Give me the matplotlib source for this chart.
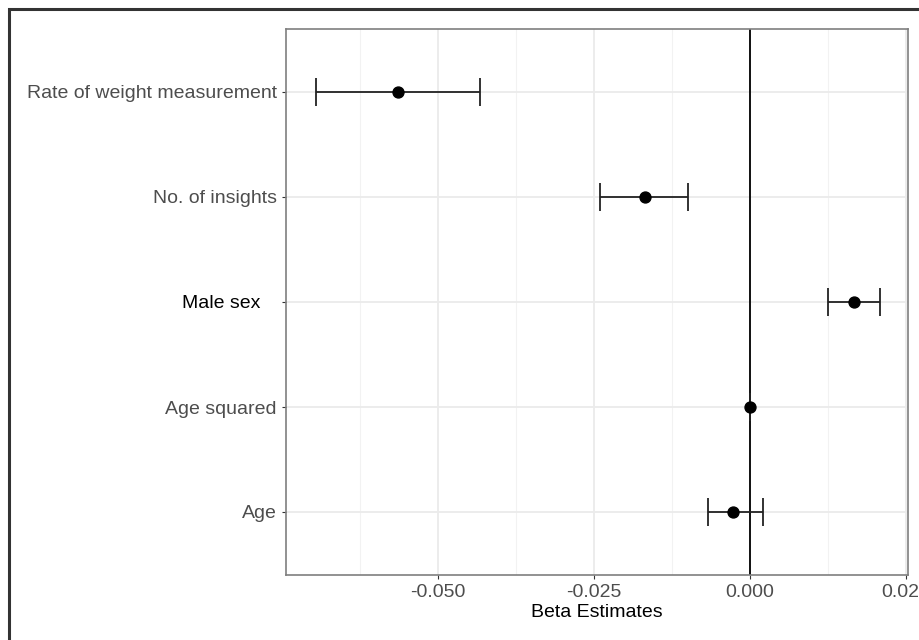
import matplotlib.pyplot as plt
from matplotlib.patches import Rectangle

# data (bottom to top)
labels = ["Age", "Age squared", "Male sex   ", "No. of insights", "Rate of weight measurement"]
estimates = [-0.0027, 0.0000, 0.0167, -0.0169, -0.0565]
ci_low = [-0.0067, 0.0000, 0.0125, -0.0240, -0.0696]
ci_high = [0.0021, 0.0000, 0.0208, -0.0099, -0.0433]
xticks = [-0.050, -0.025, 0.000, 0.025]
xtick_labels = ["-0.050", "-0.025", "0.000", "0.025"]

plt.rcParams['font.family'] = ['Liberation Sans', 'DejaVu Sans']

fig = plt.figure(figsize=(9.2, 6.4), dpi=100)
ax = fig.add_axes([286 / 920, 1 - 575 / 640, (908 - 286) / 920, (575 - 29) / 640])

ypos = list(range(1, len(labels) + 1))

# grid
for x in [-0.0625, -0.0375, -0.0125, 0.0125]:
    ax.axvline(x, color='#f2f2f2', lw=0.8, zorder=0)
for x in xticks:
    ax.axvline(x, color='#ebebeb', lw=1.3, zorder=0)
for y in ypos:
    ax.axhline(y, color='#ebebeb', lw=1.3, zorder=0)

ax.axvline(0, color='black', lw=1.3, zorder=1)

xerr = [[e - l for e, l in zip(estimates, ci_low)],
        [h - e for e, h in zip(estimates, ci_high)]]
ax.errorbar(estimates, ypos, xerr=xerr, fmt='none', ecolor='#222222',
            elinewidth=1.3, capsize=10, capthick=1.3, zorder=2)
ax.scatter(estimates, ypos, s=62, color='black', zorder=3)

ax.set_xlim(-0.0744, 0.0253)
ax.set_ylim(0.4, 5.6)
ax.set_xticks(xticks)
ax.set_xticklabels(xtick_labels)
ax.set_yticks(ypos)
ax.set_yticklabels(labels)
ax.tick_params(axis='both', labelsize=14, colors='#333333', labelcolor='#4d4d4d',
               length=3, width=0.8)
ax.get_yticklabels()[2].set_color('black')
ax.set_xlabel("Beta Estimates", fontsize=14, labelpad=2)

for s in ax.spines.values():
    s.set_color('#7f7f7f')
    s.set_linewidth(1.2)

# outer frame around the figure (partly cropped)
fig.patches.append(Rectangle((9 / 920, -0.1), 1.2, 1 - 9 / 640 + 0.1,
                             transform=fig.transFigure, fill=False,
                             edgecolor='#333333', lw=2.2))

fig.savefig("out.png", dpi=100)
